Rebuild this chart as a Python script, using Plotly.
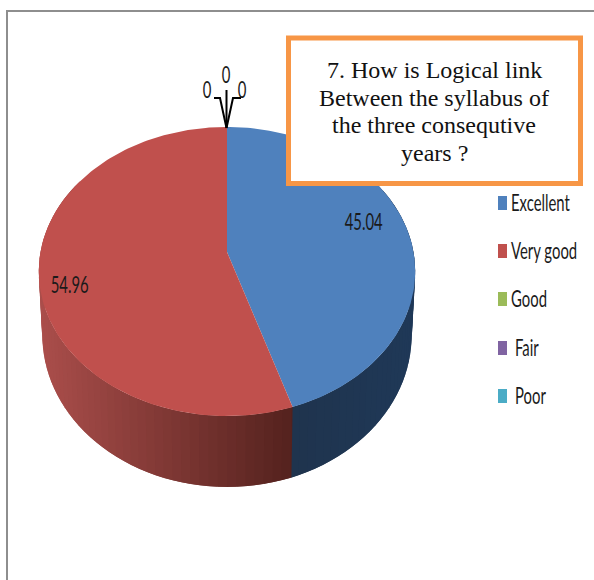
import numpy as np
import plotly.graph_objects as go

categories = ["Excellent", "Very good", "Good", "Fair", "Poor"]
values = [45.04, 54.96, 0, 0, 0]
colors = ["#4f81bd", "#c0504d", "#9bbb59", "#8064a2", "#4bacc6"]
title_lines = ["7. How is Logical link", "Between the syllabus of", "the three consequtive", "years ?"]
legend_text_x = [509, 509, 509, 513, 513]
legend_y = [203, 251, 299, 348, 396]
NARROW = "Lato, sans-serif"
SERIF = "Liberation Serif, Times New Roman, serif"

CX, PERSP = 227, 0.135


def proj(t, a, b, k):
    u, v = np.sin(t), np.cos(t)
    d = 1 + PERSP * v
    return CX + k * u / d, (a + b * v) / d


def top(t):
    return proj(t, 252, -107.9, 186.5)


def bottom(t):
    return proj(t, 314.5, -106.8, 183)


def lerp_col(c0, c1, f):
    f = min(max(f, 0), 1)
    return "rgb(%d,%d,%d)" % tuple(c0[i] + (c1[i] - c0[i]) * f for i in range(3))


fig = go.Figure()


def poly(xs, ys, col):
    fig.add_trace(go.Scatter(x=list(xs), y=list(ys), mode="lines", fill="toself", fillcolor=col,
                             line=dict(color=col, width=0), hoverinfo="skip", showlegend=False))


total = sum(values)
split = 2 * np.pi * values[0] / total

# side wall, strip by strip; each strip runs under the next one so no seams show
edges = np.radians(np.arange(60, 303, 2.5))
edges = np.sort(np.append(edges, split))
for i in range(len(edges) - 2):
    t0, t1, t2 = edges[i], edges[i + 1], edges[i + 2]
    arc = np.array([t0, t1, t2])
    xt, yt = top(arc)
    xb, yb = bottom(arc)
    mid = float(bottom((t0 + t1) / 2)[0])
    if (t0 + t1) / 2 > split:
        col = lerp_col((172, 79, 76), (84, 34, 30), (mid - 40) / 253)
    else:
        col = lerp_col((31, 52, 78), (31, 57, 88), (mid - 293) / 120)
    poly(np.r_[xt, xb[::-1]], np.r_[yt, yb[::-1]], col)

# top face
start = 0.0
for val, col in zip(values, colors):
    if val > 0:
        ang = np.linspace(start, start + 2 * np.pi * val / total, 160)
        ax, ay = top(ang)
        poly(np.r_[CX, ax, CX], np.r_[252, ay, 252], col)
        start += 2 * np.pi * val / total

# zero-value leader lines
for lx, ly in [([226.5, 220, 214], [128, 98, 98]), ([226.5, 233, 241], [128, 98, 98]), ([226.5, 226.5], [128, 90])]:
    fig.add_trace(go.Scatter(x=lx, y=ly, mode="lines", line=dict(color="#000000", width=2),
                             hoverinfo="skip", showlegend=False))

annots = []


def label(x, y, s, size=24, font=NARROW, anchor="center", color="#1a1a1a"):
    annots.append(dict(x=x, y=y, xref="x", yref="y", text=s, showarrow=False, xanchor=anchor, yanchor="middle",
                       font=dict(family=font, size=size, color=color)))


label(363.5, 220.5, "%.2f" % values[0])
label(69, 283.5, "%.2f" % values[1])
label(207, 88.5, str(values[2]))
label(226, 73.5, str(values[3]))
label(242, 88.5, str(values[4]))

for cat, tx, ly in zip(categories, legend_text_x, legend_y):
    label(tx, ly - 1.5, cat, anchor="left")

for i, line in enumerate(title_lines):
    label(434, 70 + 27.7 * i, line, size=24, font=SERIF, color="#111111")

shapes = [
    dict(type="line", x0=7, x1=7, y0=10, y1=580, line=dict(color="#8e8e8e", width=2)),
    dict(type="line", x0=6, x1=594, y0=11, y1=11, line=dict(color="#8e8e8e", width=2)),
    dict(type="rect", x0=288.5, x1=580.5, y0=38, y1=183.5, fillcolor="#ffffff", line=dict(color="#f79646", width=5)),
]
for col, ly in zip(colors, legend_y):
    shapes.append(dict(type="rect", x0=498, x1=507, y0=ly - 7, y1=ly + 7, fillcolor=col, line=dict(width=0)))

fig.update_layout(
    width=594, height=580, margin=dict(l=0, r=0, t=0, b=0), autosize=False,
    paper_bgcolor="#ffffff", plot_bgcolor="#ffffff", showlegend=False,
    xaxis=dict(range=[0, 594], visible=False, fixedrange=True),
    yaxis=dict(range=[580, 0], visible=False, fixedrange=True),
    shapes=shapes, annotations=annots,
)

# page margin off; the chart's sans labels are vertically stretched, so squeeze them horizontally
post = """
document.documentElement.style.overflow = 'hidden';
document.body.style.margin = '0';
(function () {
  var S = 0.62;
  document.querySelectorAll('.annotation-text').forEach(function (t) {
    if ((t.style.fontFamily || '').indexOf('Lato') < 0) return;
    var b = t.getBBox();
    var isLegend = !/^[0-9.]+$/.test(t.textContent);
    var px = isLegend ? b.x : b.x + b.width / 2;
    t.setAttribute('transform', 'translate(' + px + ',0) scale(' + S + ',1) translate(' + (-px) + ',0)');
  });
})();
"""
fig.write_html("out.html", config=dict(displayModeBar=False), post_script=post)
